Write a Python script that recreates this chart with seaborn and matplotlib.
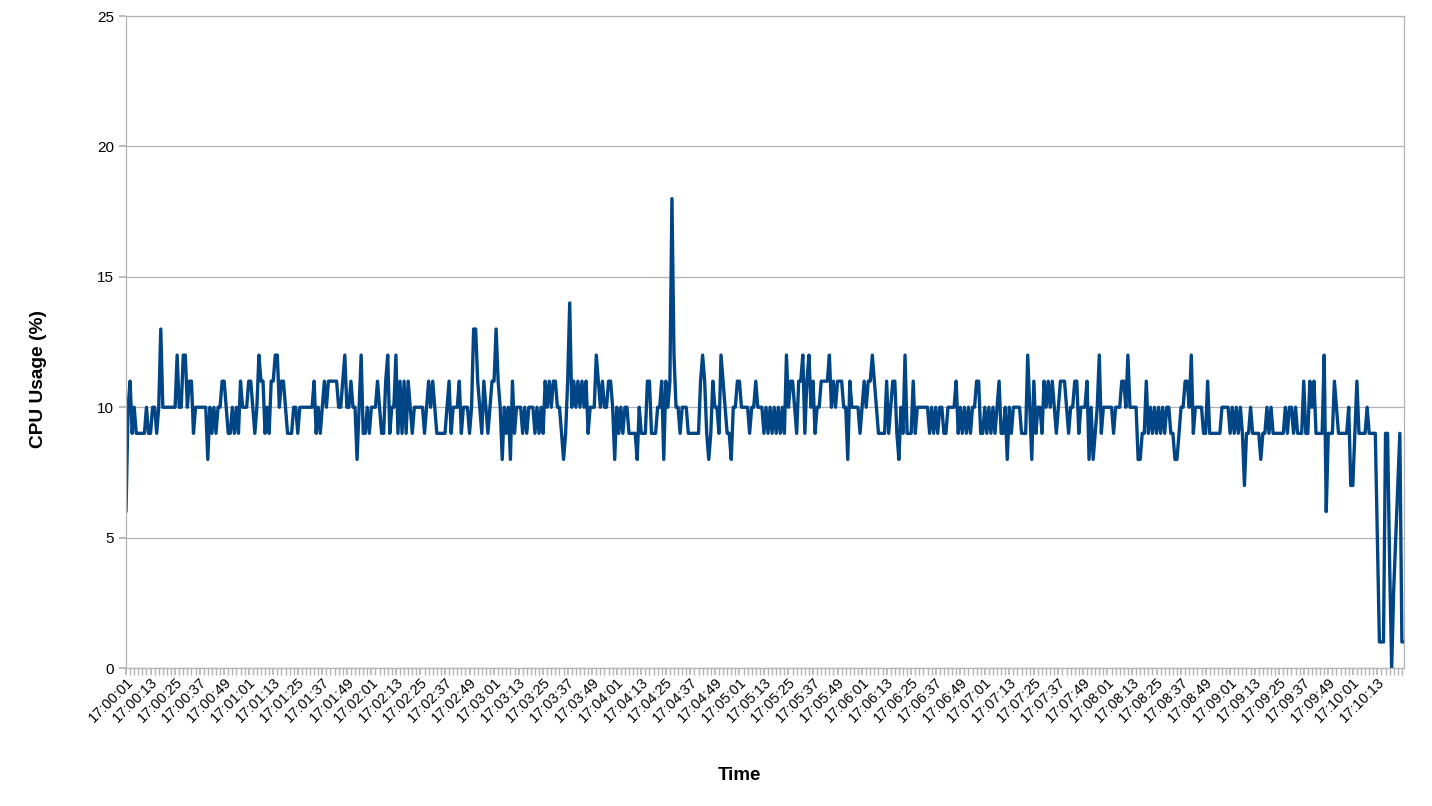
import seaborn as sns
import matplotlib.pyplot as plt
import matplotlib.ticker as mticker
import pandas as pd

cpu = [
    6, 10, 11, 9, 10, 9, 9, 9, 9, 9, 10, 9, 9, 10, 10, 9, 10, 13, 10, 10,
    10, 10, 10, 10, 10, 12, 10, 10, 12, 12, 10, 11, 11, 9, 10, 10, 10, 10, 10, 10,
    8, 10, 9, 10, 9, 10, 10, 11, 11, 10, 9,
    9, 10, 9, 10, 9, 11, 10, 10, 10, 11, 11, 10, 9, 10, 12, 11, 11, 9, 10, 9,
    11, 11, 12, 12, 10, 11, 11, 10, 9, 9, 9, 10, 10, 9, 10, 10, 10, 10, 10, 10,
    10, 11, 9, 10, 9, 10, 11, 10, 11, 11, 11, 11,
    11, 10, 10, 11, 12, 10, 10, 11, 10, 10, 8, 10, 12, 9, 9, 10, 9, 10, 10, 10,
    11, 10, 9, 9, 11, 12, 9, 10, 10, 12, 9, 11, 9, 11, 9, 11, 10, 9, 10, 10,
    10, 10, 10, 9, 10, 11, 10, 11, 10, 9, 9, 9, 9,
    9, 10, 11, 9, 10, 10, 10, 11, 9, 10, 10, 10, 9, 10, 13, 13, 11, 10, 9, 11,
    10, 9, 10, 11, 11, 13, 11, 10, 8, 10, 9, 10, 8, 11, 9, 10, 10, 10, 9, 10,
    9, 10, 10, 10, 9, 10, 9, 10, 9, 11, 10, 11,
    10, 11, 11, 10, 10, 9, 8, 9, 11, 14, 10, 11, 10, 11, 10, 11, 10, 11, 9, 10,
    10, 10, 12, 11, 10, 11, 10, 10, 11, 11, 10, 8, 10, 9, 10, 9, 10, 10, 9, 9,
    9, 9, 8, 10, 9, 9, 9, 11, 11, 9, 9, 9, 10,
    10, 11, 8, 11, 10, 11, 18, 12, 10, 10, 9, 10, 10, 10, 9, 9, 9, 9, 9, 9,
    11, 12, 11, 9, 8, 9, 11, 10, 10, 9, 12, 11, 10, 9, 9, 8, 10, 10, 11, 11,
    10, 10, 10, 10, 9, 10, 10, 11, 10, 10, 10, 9,
    10, 9, 10, 9, 10, 9, 10, 9, 10, 9, 12, 10, 11, 11, 10, 9, 11, 11, 12, 9,
    11, 12, 10, 11, 9, 10, 10, 11, 11, 11, 11, 12, 10, 11, 10, 11, 11, 11, 10, 10,
    8, 11, 10, 10, 10, 10, 9, 10, 11, 10, 11, 11,
    12, 11, 10, 9, 9, 9, 9, 11, 9, 10, 11, 11, 9, 8, 10, 9, 12, 9, 9, 9,
    11, 9, 10, 10, 10, 10, 10, 10, 9, 10, 9, 10, 9, 10, 10, 9, 9, 10, 10, 10,
    10, 11, 9, 10, 9, 10, 9, 10, 9, 10, 10, 11,
    11, 9, 9, 10, 9, 10, 9, 10, 9, 10, 11, 9, 9, 10, 8, 10, 9, 10, 10, 10,
    10, 9, 9, 9, 12, 10, 8, 11, 9, 10, 10, 9, 11, 10, 11, 10, 11, 10, 9, 10,
    11, 11, 11, 10, 9, 10, 10, 11, 11, 9, 10, 10, 10,
    11, 8, 10, 8, 9, 10, 12, 9, 10, 10, 10, 10, 10, 9, 10, 10, 10, 11, 11, 10,
    12, 10, 10, 10, 10, 8, 8, 9, 9, 11, 9, 10, 9, 10, 9, 10, 9, 10, 9, 10,
    10, 9, 9, 8, 8, 9, 10, 10, 11, 11, 10, 12,
    9, 10, 10, 10, 10, 9, 9, 11, 9, 9, 9, 9, 9, 9, 10, 10, 10, 10, 9, 10,
    9, 10, 9, 10, 9, 7, 9, 9, 10, 9, 9, 9, 9, 8, 9, 9, 10, 9, 10, 9,
    9, 9, 9, 9, 9, 10, 9, 10, 10, 9, 10, 9,
    9, 9, 11, 9, 9, 11, 10, 11, 9, 9, 9, 9, 12, 6, 9, 9, 9, 11, 10, 9,
    9, 9, 9, 9, 10, 7, 7, 9, 11, 9, 9, 9, 9, 10, 9, 9, 9, 9, 5, 1,
    1, 1, 9, 9, 4, 0, 3, 5, 7, 9, 1, 1,
]
start_time = "17:00:01"
label_every = 12

times = pd.date_range(start_time, periods=len(cpu), freq="s").strftime("%H:%M:%S")
df = pd.DataFrame({"idx": range(len(cpu)), "Time": times, "cpu": cpu})

sns.set_theme(style="white")
plt.rcParams["font.family"] = ["Liberation Sans", "DejaVu Sans"]

fig, ax = plt.subplots(figsize=(14.32, 8.06), dpi=100)
fig.subplots_adjust(left=0.088, right=0.9804, top=0.980, bottom=0.1712)

sns.lineplot(data=df, x="idx", y="cpu", ax=ax, color="#004586", linewidth=2.4)

ax.set_xlim(0, len(cpu) - 1)
ax.set_ylim(0, 25)
ax.yaxis.set_major_locator(mticker.MultipleLocator(5))
ax.grid(axis="y", color="#b3b3b3", linewidth=0.9)
ax.grid(axis="x", visible=False)
for sp in ax.spines.values():
    sp.set_color("#b3b3b3")
    sp.set_linewidth(0.9)

# the last label (17:10:25) does not fit in the reference, so stop before it
ticks = list(range(0, len(cpu) - label_every, label_every))
ax.set_xticks(ticks)
ax.set_xticklabels([times[i] for i in ticks], rotation=45, ha="right",
                   rotation_mode="anchor", fontsize=10.5)
ax.xaxis.set_minor_locator(mticker.MultipleLocator(2))
ax.tick_params(axis="x", which="both", bottom=True, direction="out",
               length=5, color="#b3b3b3", pad=0, labelcolor="black")
ax.tick_params(axis="y", left=True, direction="out", length=5,
               color="#b3b3b3", labelsize=11, labelcolor="black")

ax.set_xlabel("Time", fontsize=13.5, fontweight="bold", color="black")
ax.set_ylabel("CPU Usage (%)", fontsize=13.8, fontweight="bold", color="black")
ax.xaxis.set_label_coords(0.480, -0.152)
ax.yaxis.set_label_coords(-0.062, 0.443)

fig.savefig("out.png", dpi=100)
